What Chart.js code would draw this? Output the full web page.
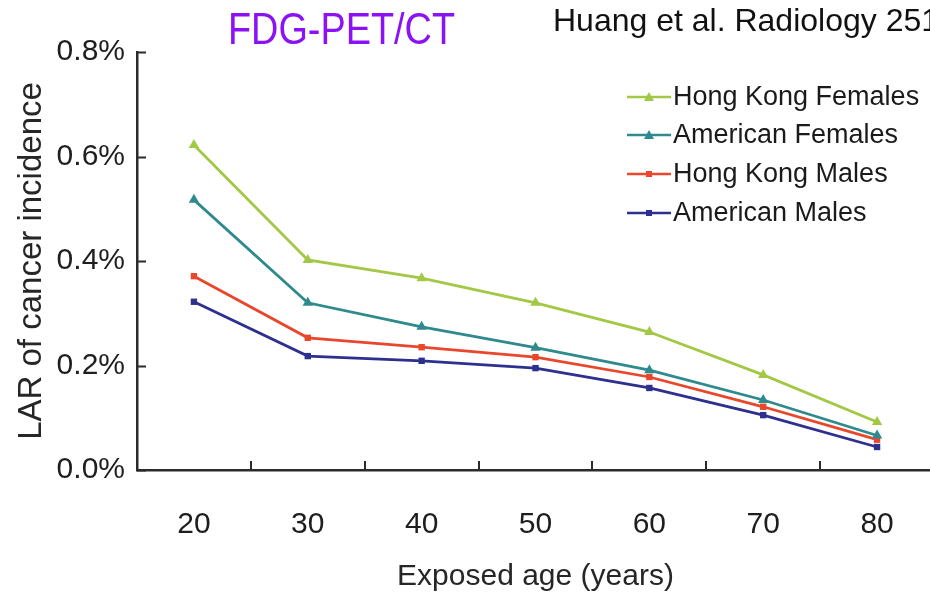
<!DOCTYPE html>
<html>
<head>
<meta charset="utf-8">
<script src="https://cdn.jsdelivr.net/npm/chart.js@4/dist/chart.umd.min.js"></script>
<style>
    html, body { margin: 0; padding: 0; background: #fff; overflow: hidden; }
    #wrap { width: 940px; height: 595px; }
</style>
</head>
<body>
<div id="wrap"><canvas id="lar_chart"></canvas></div>
<script>
"use strict";

// Chart labels
const ages = ['20', '30', '40', '50', '60', '70', '80'];
const yTicks = [0, 0.2, 0.4, 0.6, 0.8];

// Chart data (LAR of cancer incidence, %)
const hkFemales = [0.622, 0.402, 0.367, 0.320, 0.264, 0.182, 0.092];
const usFemales = [0.517, 0.320, 0.274, 0.234, 0.191, 0.134, 0.066];
const hkMales = [0.371, 0.253, 0.235, 0.216, 0.178, 0.121, 0.058];
const usMales = [0.322, 0.218, 0.209, 0.195, 0.157, 0.105, 0.044];

// Define colors
var greenColor = '#a2c845';
var tealColor = '#2f8a8e';
var redColor = '#e8472c';
var navyColor = '#2d308e';
var axisColor = '#2b2b2b';

// Define fonts
var fontFamily = "'Liberation Sans', Arial, sans-serif";

// Inward tick marks, legend and header texts
var decorPlugin = {
    id: 'decor',
    afterDraw: function (chart) {
        var ctx = chart.ctx;
        var x = chart.scales.x;
        var y = chart.scales.y;
        var area = chart.chartArea;

        ctx.save();
        ctx.strokeStyle = axisColor;
        ctx.lineWidth = 2;
        ctx.beginPath();
        // y ticks point to the right
        yTicks.forEach(function (v) {
            var py = Math.round(y.getPixelForValue(v)) + 0.5;
            ctx.moveTo(area.left, py);
            ctx.lineTo(area.left + 9, py);
        });
        // x ticks sit between categories and point up
        for (var i = 1; i < ages.length; i++) {
            var px = Math.round((x.getPixelForValue(i - 1) + x.getPixelForValue(i)) / 2);
            ctx.moveTo(px, area.bottom);
            ctx.lineTo(px, area.bottom - 9);
        }
        ctx.stroke();

        // Legend
        var rowY = [97, 135, 174, 213];
        ctx.font = '27px ' + fontFamily;
        ctx.textBaseline = 'middle';
        ctx.textAlign = 'left';
        chart.data.datasets.forEach(function (ds, idx) {
            var ly = rowY[idx];
            ctx.strokeStyle = ds.borderColor;
            ctx.fillStyle = ds.borderColor;
            ctx.lineWidth = 2.5;
            ctx.beginPath();
            ctx.moveTo(627, ly);
            ctx.lineTo(671, ly);
            ctx.stroke();
            ctx.beginPath();
            if (ds.pointStyle === 'triangle') {
                ctx.moveTo(649, ly - 5);
                ctx.lineTo(654, ly + 4);
                ctx.lineTo(644, ly + 4);
                ctx.closePath();
            } else {
                ctx.rect(646, ly - 3, 6, 6);
            }
            ctx.fill();
            ctx.fillStyle = '#1a1a1a';
            ctx.fillText(ds.label, 673, ly + 1);
        });

        // Header texts
        ctx.textBaseline = 'alphabetic';
        ctx.fillStyle = '#8c12f6';
        ctx.font = '44px ' + fontFamily;
        ctx.translate(228, 44);
        ctx.scale(0.86, 1);
        ctx.fillText('FDG-PET/CT', 0, 0);
        ctx.setTransform(1, 0, 0, 1, 0, 0);
        ctx.fillStyle = '#111';
        ctx.font = '32px ' + fontFamily;
        ctx.fillText('Huang et al. Radiology 251', 553, 31);
        ctx.restore();
    }
};

// Chart data
const data = {
    labels: ages,
    datasets: [
        {
            label: 'Hong Kong Females',
            data: hkFemales,
            borderColor: greenColor,
            backgroundColor: greenColor,
            pointStyle: 'triangle',
            pointRadius: 6
        },
        {
            label: 'American Females',
            data: usFemales,
            borderColor: tealColor,
            backgroundColor: tealColor,
            pointStyle: 'triangle',
            pointRadius: 6
        },
        {
            label: 'Hong Kong Males',
            data: hkMales,
            borderColor: redColor,
            backgroundColor: redColor,
            pointStyle: 'rect',
            pointRadius: 4.5
        },
        {
            label: 'American Males',
            data: usMales,
            borderColor: navyColor,
            backgroundColor: navyColor,
            pointStyle: 'rect',
            pointRadius: 4.5
        }
    ]
};

// Chart config
const config = {
    type: 'line',
    data: data,
    options: {
        responsive: true,
        maintainAspectRatio: false,
        animation: false,
        layout: {
            padding: { top: 52, right: 4, left: 0, bottom: 0 }
        },
        elements: {
            line: { borderWidth: 2.8, tension: 0 },
            point: { borderWidth: 0, hoverRadius: 6 }
        },
        plugins: {
            legend: { display: false },
            title: { display: false },
            tooltip: { enabled: false }
        },
        scales: {
            x: {
                offset: true,
                grid: { display: false, drawTicks: false },
                border: { display: true, color: axisColor, width: 2.5 },
                ticks: {
                    padding: 37,
                    color: '#1e1e1e',
                    font: { family: fontFamily, size: 30 }
                },
                title: {
                    display: true,
                    text: 'Exposed age (years)',
                    color: '#262626',
                    font: { family: fontFamily, size: 30 },
                    padding: { top: 0, bottom: 0 }
                },
                afterFit: function (scale) {
                    scale.height = 125;
                }
            },
            y: {
                min: 0,
                max: 0.8,
                grid: { display: false, drawTicks: false },
                border: { display: true, color: axisColor, width: 2.5 },
                afterBuildTicks: function (scale) {
                    scale.ticks = yTicks.map(function (v) { return { value: v }; });
                },
                ticks: {
                    padding: 12,
                    color: '#1e1e1e',
                    font: { family: fontFamily, size: 30 },
                    callback: function (value) {
                        return value.toFixed(1) + '%';
                    }
                },
                title: {
                    display: true,
                    text: 'LAR of cancer incidence',
                    color: '#262626',
                    font: { family: fontFamily, size: 33 },
                    padding: { top: 12, bottom: 0 }
                },
                afterFit: function (scale) {
                    scale.width = 137;
                }
            }
        }
    },
    plugins: [decorPlugin]
};

// Init ChartJS
var ctx = document.getElementById('lar_chart');
var myChart = new Chart(ctx, config);
</script>
</body>
</html>
